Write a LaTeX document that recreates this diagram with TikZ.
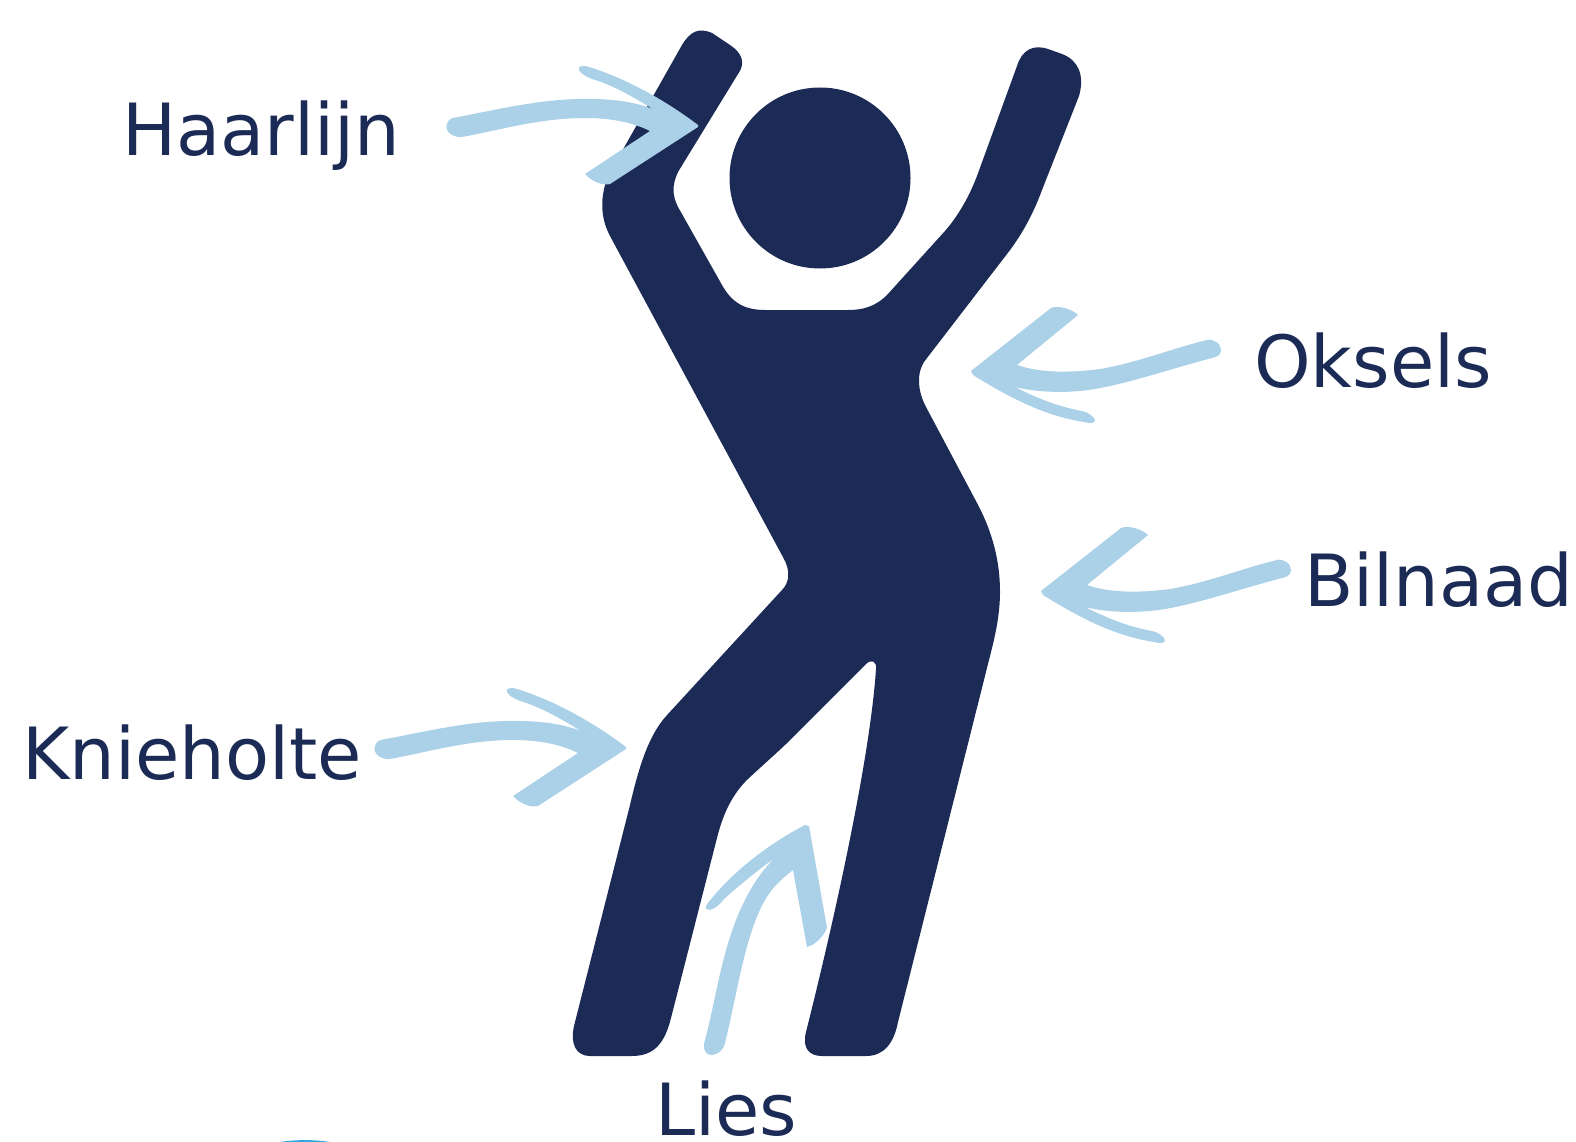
\documentclass[tikz,border=0pt]{standalone}
\usepackage{fontspec}
\setmainfont{DejaVu Sans}
\definecolor{navy}{HTML}{1B2B55}
\definecolor{pale}{HTML}{ABD1E8}
\definecolor{sky}{HTML}{2FA8DC}
\tikzset{
  figure/.style={fill=navy,draw=none},
  arrowshape/.style={fill=pale,draw=none},
  lab/.style={anchor=base west,inner sep=0pt,text=navy,font=\fontsize{72}{86}\selectfont},
}
\newcommand{\rightarrowshape}{%
  (698,127) -- (610,184) .. controls (604,186) and (592,182) .. (585,174)
  -- (650,131) .. controls (632,122) and (610,118) .. (585,118)
  .. controls (540,118) and (500,130) .. (462,137)
  .. controls (453,138) and (444,131) .. (447,124)
  .. controls (449,118) and (452,118) .. (458,117)
  .. controls (500,109) and (545,98) .. (590,99)
  .. controls (620,99) and (640,104) .. (653,109)
  .. controls (630,95) and (610,84) .. (592,79)
  .. controls (585,76) and (577,72) .. (579,67)
  .. controls (582,65) and (585,66) .. (589,67)
  .. controls (625,78) and (665,100) .. (698,125) -- cycle}
\newcommand{\leftarrowshape}{%
  (971,371) -- (1051,308) .. controls (1058,305) and (1072,309) .. (1078,315)
  -- (1017,365) .. controls (1040,373) and (1070,373) .. (1100,369)
  .. controls (1140,362) and (1170,349) .. (1207,340)
  .. controls (1214,338) and (1222,345) .. (1221,351)
  .. controls (1220,356) and (1216,357) .. (1212,358)
  .. controls (1170,369) and (1130,383) .. (1095,389)
  .. controls (1065,394) and (1035,392) .. (1015,387)
  .. controls (1035,397) and (1055,406) .. (1082,411)
  .. controls (1088,412) and (1095,417) .. (1095,421)
  .. controls (1093,424) and (1088,423) .. (1084,422)
  .. controls (1045,416) and (1010,398) .. (973,375) -- cycle}
\begin{document}
\begin{tikzpicture}[x=1pt,y=-1pt]
\useasboundingbox (0,0) rectangle (1576,1142);
\fill[white] (0,0) rectangle (1576,1142);
% body
\path[figure] (682,45)
  .. controls (690,32) and (698,27) .. (712,33)
  -- (730,45) .. controls (742,53) and (746,63) .. (738,74)
  -- (678,172) .. controls (672,185) and (672,195) .. (678,207)
  -- (722,285) .. controls (732,303) and (745,310) .. (765,310)
  -- (848,310) .. controls (864,310) and (876,306) .. (887,295)
  -- (945,231) .. controls (958,216) and (969,197) .. (977,176)
  -- (1017,66) .. controls (1022,50) and (1033,44) .. (1048,49)
  -- (1062,54) .. controls (1078,60) and (1085,75) .. (1079,96)
  -- (1042,190) .. controls (1034,212) and (1022,235) .. (1007,254)
  -- (927,358) .. controls (917,369) and (916,388) .. (926,407)
  -- (977,503) .. controls (993,533) and (1000,562) .. (1000,592)
  .. controls (1000,612) and (996,632) .. (992,648)
  -- (898,1022) .. controls (894,1043) and (884,1056) .. (866,1056)
  -- (822,1056) .. controls (809,1056) and (802,1048) .. (806,1032)
  .. controls (833,925) and (870,760) .. (876,669)
  .. controls (877,661) and (871,659) .. (866,664)
  -- (800,730) .. controls (785,746) and (765,763) .. (749,778)
  .. controls (733,793) and (724,812) .. (718,834)
  -- (671,1018) .. controls (665,1042) and (655,1056) .. (632,1056)
  -- (590,1056) .. controls (576,1056) and (570,1044) .. (574,1026)
  -- (630,805) .. controls (640,762) and (650,733) .. (668,714)
  -- (782,590) .. controls (790,582) and (790,570) .. (784,559)
  -- (610,236) .. controls (600,217) and (600,197) .. (608,176)
  -- cycle;
% head
\path[figure] (820,178) circle[radius=90.5];
% arrows
\path[arrowshape] \rightarrowshape;
\begin{scope}[shift={(-72,622)}]
  \path[arrowshape] \rightarrowshape;
\end{scope}
\path[arrowshape] \leftarrowshape;
\begin{scope}[shift={(70,220)}]
  \path[arrowshape] \leftarrowshape;
\end{scope}
\path[arrowshape] (809,826) -- (827,928)
  .. controls (824,936) and (815,945) .. (807,947)
  -- (793,870) .. controls (780,880) and (772,888) .. (765,900)
  .. controls (745,935) and (738,990) .. (725,1043)
  .. controls (723,1054) and (709,1059) .. (705,1051)
  .. controls (703,1047) and (704,1043) .. (705,1040)
  .. controls (716,1000) and (722,945) .. (745,900)
  .. controls (754,882) and (764,868) .. (775,858)
  .. controls (758,870) and (742,883) .. (724,899)
  .. controls (718,907) and (710,912) .. (706,909)
  .. controls (705,906) and (708,903) .. (712,898)
  .. controls (735,870) and (770,843) .. (805,825) -- cycle;
% sliver at the lower edge
\path[fill=sky] (280,1142) .. controls (295,1139.5) and (315,1139.5) .. (330,1142) -- cycle;
% labels
\node[lab] (haarlijn) at (122,156) {Haarlijn};
\node[lab] (oksels) at (1254,387) {Oksels};
\node[lab] (bilnaad) at (1304,606) {Bilnaad};
\node[lab] (knieholte) at (22,779) {Knieholte};
\node[lab] (lies) at (655,1135) {Lies};
\end{tikzpicture}
\end{document}
